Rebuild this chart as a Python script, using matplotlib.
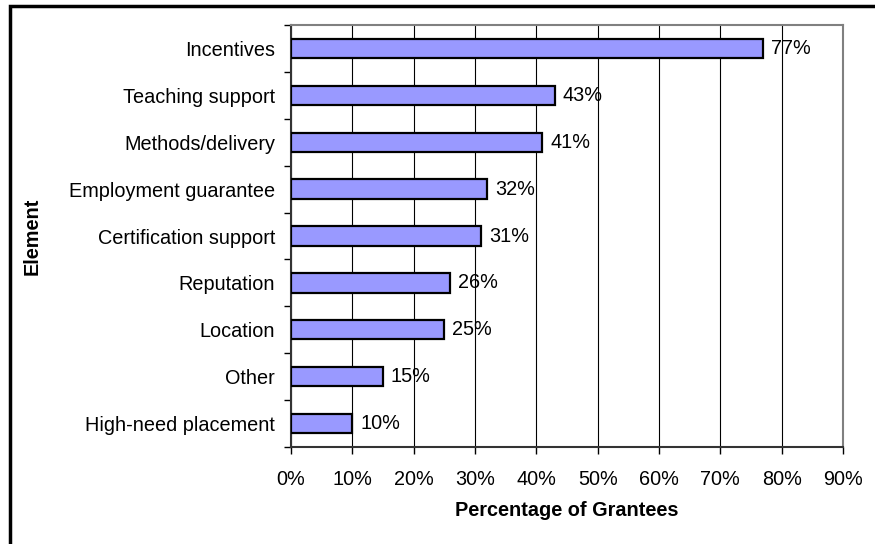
import numpy as np
import matplotlib.pyplot as plt
from matplotlib.patches import Rectangle

plt.rcParams['font.family'] = ['Liberation Sans', 'DejaVu Sans']

elements = ['Incentives', 'Teaching support', 'Methods/delivery',
            'Employment guarantee', 'Certification support', 'Reputation',
            'Location', 'Other', 'High-need placement']
pct = [77, 43, 41, 32, 31, 26, 25, 15, 10]
xticks = [0, 10, 20, 30, 40, 50, 60, 70, 80, 90]

fs = 14.3
fig = plt.figure(figsize=(8.75, 5.44), dpi=100)
W, H = 875, 544
ax = fig.add_axes([291 / W, 1 - 447 / H, (843 - 291) / W, (447 - 25) / H])

n = len(elements)
ypos = np.arange(n)[::-1]
ax.barh(ypos, pct, height=0.41, color='#9999ff', edgecolor='black',
        linewidth=1.6, zorder=3)
for y, v in zip(ypos, pct):
    ax.text(v + 1.3, y, f'{v}%', va='center', ha='left', fontsize=fs, zorder=4)

ax.set_xlim(0, 90)
ax.set_ylim(-0.5, n - 0.5)
ax.set_xticks(xticks)
ax.set_xticklabels([f'{t}%' for t in xticks], fontsize=fs)
ax.xaxis.grid(True, color='black', linewidth=0.8, zorder=0)

ax.set_yticks(ypos)
ax.set_yticklabels(elements, fontsize=fs)
ax.tick_params(axis='y', length=0, pad=11.5)
ax.set_yticks(np.arange(-0.5, n, 1), minor=True)
ax.tick_params(axis='y', which='minor', length=5, width=1, direction='out')
ax.tick_params(axis='x', length=5, width=1, direction='out', pad=11.5)

for s in ['top', 'right']:
    ax.spines[s].set_color('#808080')
    ax.spines[s].set_linewidth(1.5)
for s in ['left', 'bottom']:
    ax.spines[s].set_color('#333333')
    ax.spines[s].set_linewidth(1.5)

fig.text(32 / W, 1 - 236 / H, 'Element', rotation=90, fontsize=fs,
         fontweight='bold', ha='center', va='center')
fig.text(567 / W, 1 - 510 / H, 'Percentage of Grantees', fontsize=fs,
         fontweight='bold', ha='center', va='center')

fig.patches.append(Rectangle((10 / W, -0.05), 1.0, 1 - 6 / H + 0.05,
                             transform=fig.transFigure, fill=False,
                             edgecolor='black', linewidth=2.5))

fig.savefig('out.png', dpi=100)
